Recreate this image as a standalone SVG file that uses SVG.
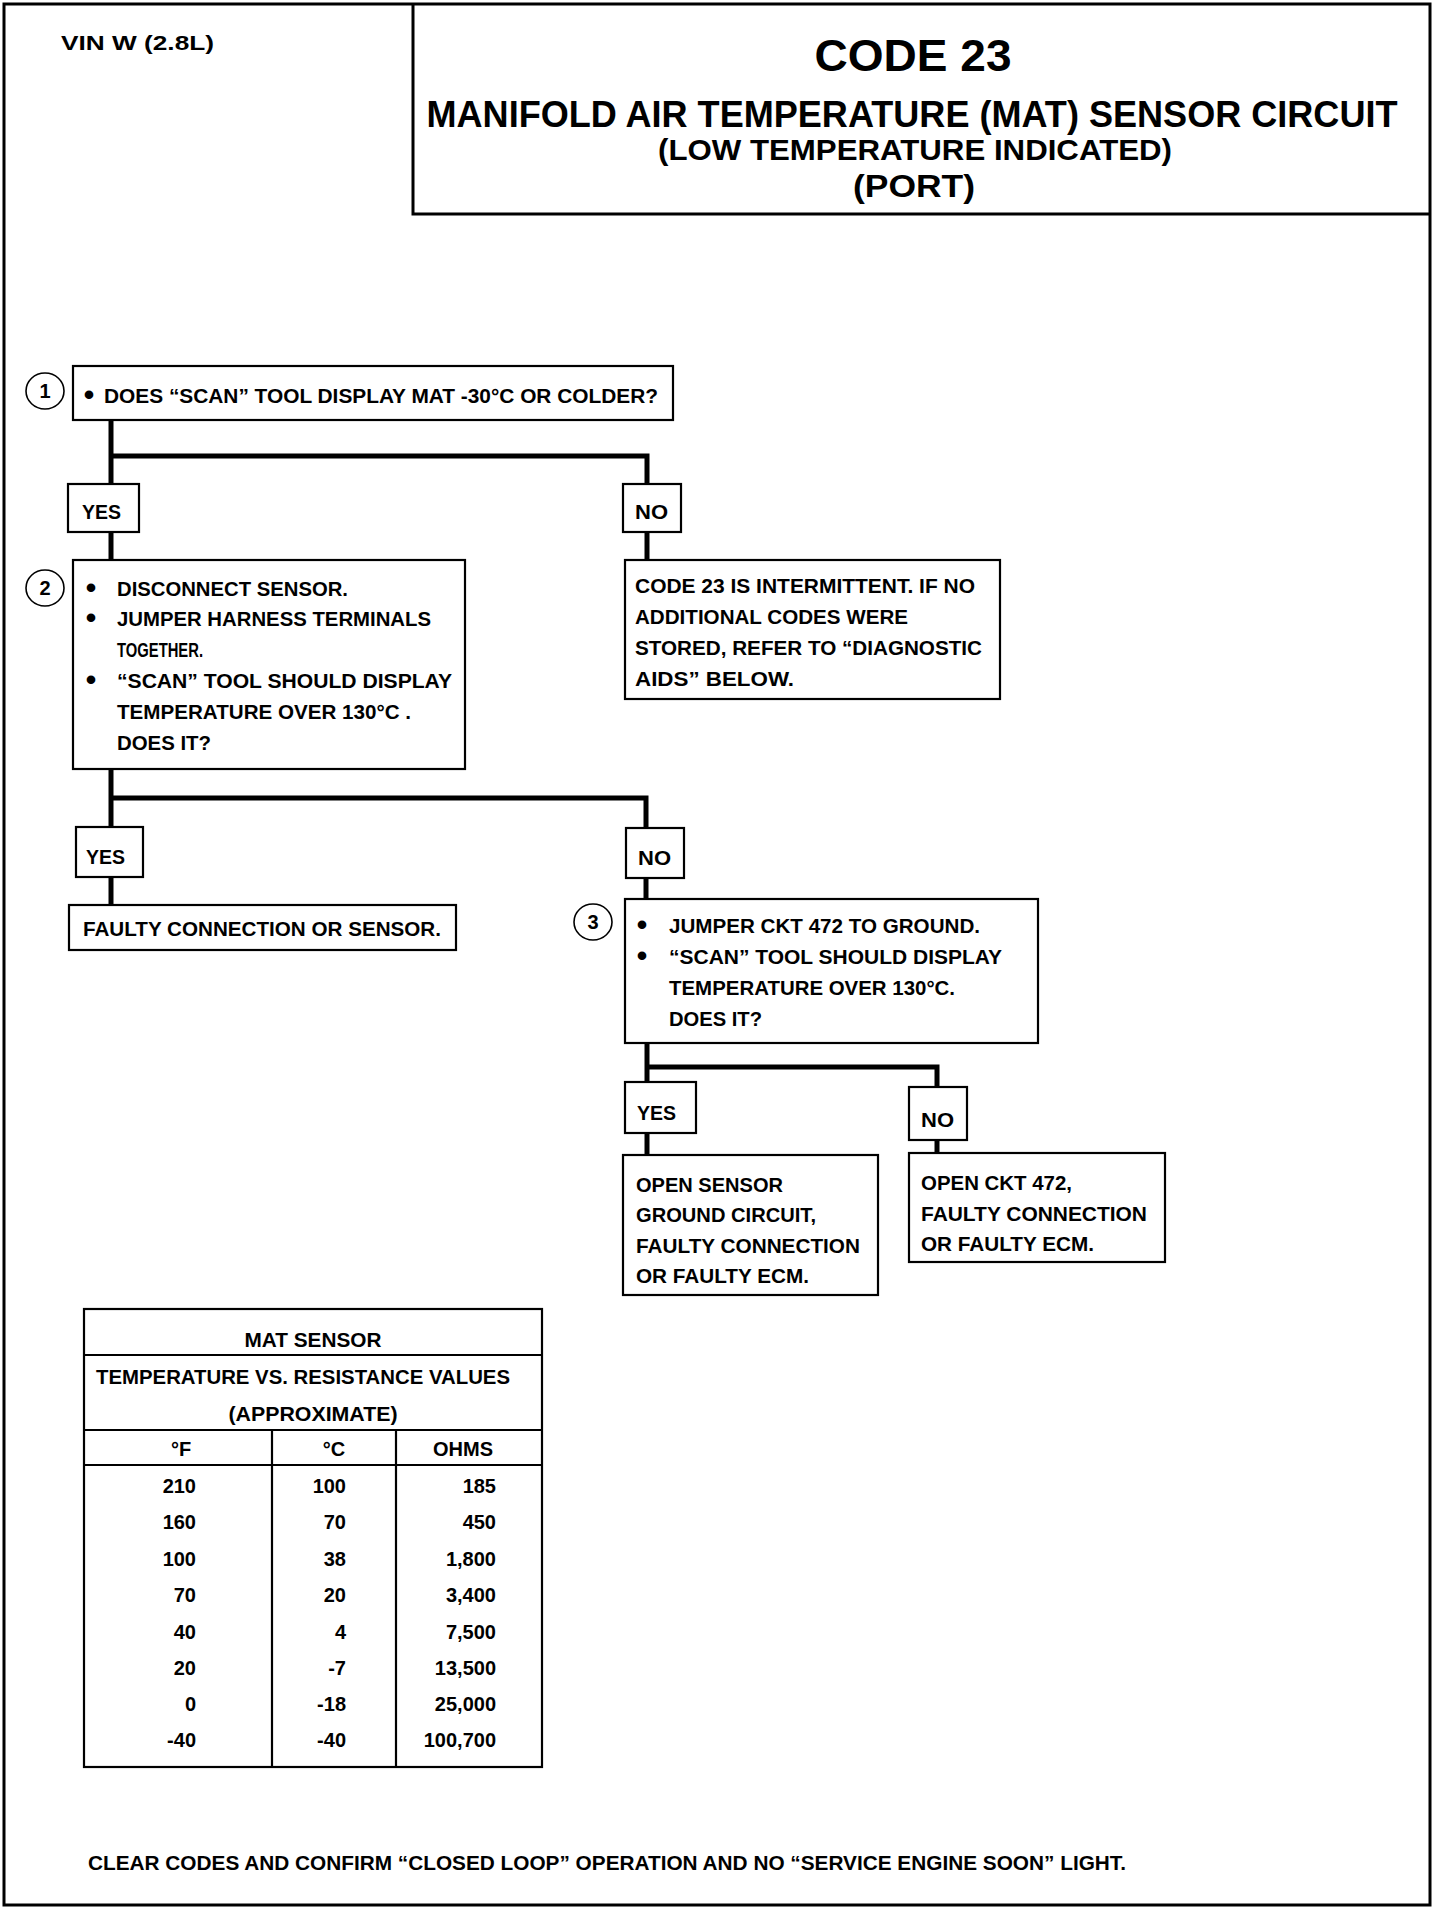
<svg xmlns="http://www.w3.org/2000/svg" width="1456" height="1910" viewBox="0 0 1456 1910">
<style>
text{font-family:"Liberation Sans",Arial,sans-serif;font-weight:bold;fill:#000;font-size:20px}
.box{fill:#fff;stroke:#000;stroke-width:2.2}
.num{fill:#fff;stroke:#000;stroke-width:1.6}
.conn{fill:none;stroke:#000;stroke-width:5;stroke-linejoin:miter}
.tl{fill:none;stroke:#000;stroke-width:2.2}
.c{text-anchor:middle}
.r{text-anchor:end}
.b{font-size:30px}
.n{font-size:20px}
.vin{font-size:20px}
.h1{font-size:44px}
.h2{font-size:36px}
.h3{font-size:30px}
.h4{font-size:32px}
</style>
<rect x="0" y="0" width="1456" height="1910" fill="#fff"/>
<rect x="4" y="4" width="1426" height="1901" fill="none" stroke="#000" stroke-width="3"/>
<g id="title">
<polyline points="413,4 413,214 1430,214" fill="none" stroke="#000" stroke-width="3"/>
<text x="61" y="50" class="vin" textLength="153" lengthAdjust="spacingAndGlyphs">VIN W (2.8L)</text>
<text x="913" y="71" class="h1 c" textLength="197" lengthAdjust="spacingAndGlyphs">CODE 23</text>
<text x="912" y="127" class="h2 c" textLength="971" lengthAdjust="spacingAndGlyphs">MANIFOLD AIR TEMPERATURE (MAT) SENSOR CIRCUIT</text>
<text x="915" y="160" class="h3 c" textLength="514" lengthAdjust="spacingAndGlyphs">(LOW TEMPERATURE INDICATED)</text>
<text x="914" y="197" class="h4 c" textLength="122" lengthAdjust="spacingAndGlyphs">(PORT)</text>
</g>
<g id="connectors">
<polyline class="conn" points="111,420 111,484"/>
<polyline class="conn" points="111,456 647,456 647,484"/>
<line class="conn" x1="111" y1="532" x2="111" y2="560"/>
<line class="conn" x1="647" y1="532" x2="647" y2="560"/>
<polyline class="conn" points="111,769 111,827"/>
<polyline class="conn" points="111,798 646,798 646,828"/>
<line class="conn" x1="111" y1="877" x2="111" y2="905"/>
<line class="conn" x1="646" y1="878" x2="646" y2="899"/>
<polyline class="conn" points="647,1043 647,1082"/>
<polyline class="conn" points="647,1067 937,1067 937,1087"/>
<line class="conn" x1="647" y1="1133" x2="647" y2="1155"/>
<line class="conn" x1="937" y1="1140" x2="937" y2="1153"/>
</g>
<g id="step1">
<ellipse class="num" cx="45" cy="391" rx="19" ry="18"/>
<text x="45" y="398" class="n c">1</text>
<rect class="box" x="73" y="366" width="600" height="54"/>
<text x="89" y="405" class="b c">•</text>
<text x="104" y="403" textLength="554" lengthAdjust="spacingAndGlyphs">DOES “SCAN” TOOL DISPLAY MAT -30°C OR COLDER?</text>
</g>
<g id="yes1">
<rect class="box" x="68" y="484" width="71" height="48"/>
<text x="82" y="519" textLength="39" lengthAdjust="spacingAndGlyphs">YES</text>
</g>
<g id="no1">
<rect class="box" x="623" y="484" width="58" height="48"/>
<text x="635" y="519" textLength="33" lengthAdjust="spacingAndGlyphs">NO</text>
</g>
<g id="step2">
<ellipse class="num" cx="45" cy="588" rx="19" ry="18"/>
<text x="45" y="595" class="n c">2</text>
<rect class="box" x="73" y="560" width="392" height="209"/>
<text x="91" y="598" class="b c">•</text>
<text x="117" y="596" textLength="231" lengthAdjust="spacingAndGlyphs">DISCONNECT SENSOR.</text>
<text x="91" y="628" class="b c">•</text>
<text x="117" y="626" textLength="314" lengthAdjust="spacingAndGlyphs">JUMPER HARNESS TERMINALS</text>
<text x="117" y="657" textLength="86" lengthAdjust="spacingAndGlyphs">TOGETHER.</text>
<text x="91" y="690" class="b c">•</text>
<text x="117" y="688" textLength="335" lengthAdjust="spacingAndGlyphs">“SCAN” TOOL SHOULD DISPLAY</text>
<text x="117" y="719" textLength="294" lengthAdjust="spacingAndGlyphs">TEMPERATURE OVER 130°C .</text>
<text x="117" y="750" textLength="94" lengthAdjust="spacingAndGlyphs">DOES IT?</text>
</g>
<g id="intermittent">
<rect class="box" x="625" y="560" width="375" height="139"/>
<text x="635" y="593" textLength="340" lengthAdjust="spacingAndGlyphs">CODE 23 IS INTERMITTENT.  IF NO</text>
<text x="635" y="624" textLength="273" lengthAdjust="spacingAndGlyphs">ADDITIONAL CODES WERE</text>
<text x="635" y="655" textLength="347" lengthAdjust="spacingAndGlyphs">STORED, REFER TO  “DIAGNOSTIC</text>
<text x="635" y="686" textLength="159" lengthAdjust="spacingAndGlyphs">AIDS” BELOW.</text>
</g>
<g id="yes2">
<rect class="box" x="76" y="827" width="67" height="50"/>
<text x="86" y="864" textLength="39" lengthAdjust="spacingAndGlyphs">YES</text>
</g>
<g id="no2">
<rect class="box" x="626" y="828" width="58" height="50"/>
<text x="638" y="865" textLength="33" lengthAdjust="spacingAndGlyphs">NO</text>
</g>
<g id="faulty">
<rect class="box" x="69" y="905" width="387" height="45"/>
<text x="83" y="936" textLength="358" lengthAdjust="spacingAndGlyphs">FAULTY CONNECTION OR SENSOR.</text>
</g>
<g id="step3">
<ellipse class="num" cx="593" cy="922" rx="19" ry="18"/>
<text x="593" y="929" class="n c">3</text>
<rect class="box" x="625" y="899" width="413" height="144"/>
<text x="642" y="935" class="b c">•</text>
<text x="669" y="933" textLength="311" lengthAdjust="spacingAndGlyphs">JUMPER CKT 472 TO GROUND.</text>
<text x="642" y="966" class="b c">•</text>
<text x="669" y="964" textLength="333" lengthAdjust="spacingAndGlyphs">“SCAN” TOOL SHOULD DISPLAY</text>
<text x="669" y="995" textLength="286" lengthAdjust="spacingAndGlyphs">TEMPERATURE OVER 130°C.</text>
<text x="669" y="1026" textLength="93" lengthAdjust="spacingAndGlyphs">DOES IT?</text>
</g>
<g id="yes3">
<rect class="box" x="625" y="1082" width="71" height="51"/>
<text x="637" y="1120" textLength="39" lengthAdjust="spacingAndGlyphs">YES</text>
</g>
<g id="no3">
<rect class="box" x="909" y="1087" width="58" height="53"/>
<text x="921" y="1127" textLength="33" lengthAdjust="spacingAndGlyphs">NO</text>
</g>
<g id="open-sensor">
<rect class="box" x="623" y="1155" width="255" height="140"/>
<text x="636" y="1192" textLength="147" lengthAdjust="spacingAndGlyphs">OPEN SENSOR</text>
<text x="636" y="1222" textLength="180" lengthAdjust="spacingAndGlyphs">GROUND CIRCUIT,</text>
<text x="636" y="1253" textLength="224" lengthAdjust="spacingAndGlyphs">FAULTY CONNECTION</text>
<text x="636" y="1283" textLength="173" lengthAdjust="spacingAndGlyphs">OR FAULTY ECM.</text>
</g>
<g id="open-ckt">
<rect class="box" x="909" y="1153" width="256" height="109"/>
<text x="921" y="1190" textLength="151" lengthAdjust="spacingAndGlyphs">OPEN CKT 472,</text>
<text x="921" y="1221" textLength="226" lengthAdjust="spacingAndGlyphs">FAULTY CONNECTION</text>
<text x="921" y="1251" textLength="173" lengthAdjust="spacingAndGlyphs">OR FAULTY ECM.</text>
</g>
<g id="table">
<rect class="tl" x="84" y="1309" width="458" height="458"/>
<line class="tl" x1="84" y1="1355" x2="542" y2="1355"/>
<line class="tl" x1="84" y1="1430" x2="542" y2="1430"/>
<line class="tl" x1="84" y1="1465" x2="542" y2="1465"/>
<line class="tl" x1="272" y1="1430" x2="272" y2="1767"/>
<line class="tl" x1="396" y1="1430" x2="396" y2="1767"/>
<text x="313" y="1347" class="c" textLength="137" lengthAdjust="spacingAndGlyphs">MAT SENSOR</text>
<text x="96" y="1384" textLength="414" lengthAdjust="spacingAndGlyphs">TEMPERATURE VS. RESISTANCE VALUES</text>
<text x="313" y="1421" class="c" textLength="169" lengthAdjust="spacingAndGlyphs">(APPROXIMATE)</text>
<text x="181" y="1456" class="c">°F</text>
<text x="334" y="1456" class="c">°C</text>
<text x="463" y="1456" class="c">OHMS</text>
<g class="r">
<text x="196" y="1493">210</text><text x="346" y="1493">100</text><text x="496" y="1493">185</text>
<text x="196" y="1529">160</text><text x="346" y="1529">70</text><text x="496" y="1529">450</text>
<text x="196" y="1566">100</text><text x="346" y="1566">38</text><text x="496" y="1566">1,800</text>
<text x="196" y="1602">70</text><text x="346" y="1602">20</text><text x="496" y="1602">3,400</text>
<text x="196" y="1639">40</text><text x="346" y="1639">4</text><text x="496" y="1639">7,500</text>
<text x="196" y="1675">20</text><text x="346" y="1675">-7</text><text x="496" y="1675">13,500</text>
<text x="196" y="1711">0</text><text x="346" y="1711">-18</text><text x="496" y="1711">25,000</text>
<text x="196" y="1747">-40</text><text x="346" y="1747">-40</text><text x="496" y="1747">100,700</text>
</g>
</g>
<g id="footer">
<text x="88" y="1870" textLength="1038" lengthAdjust="spacingAndGlyphs">CLEAR CODES AND CONFIRM “CLOSED LOOP”  OPERATION AND NO “SERVICE ENGINE SOON” LIGHT.</text>
</g>
</svg>
